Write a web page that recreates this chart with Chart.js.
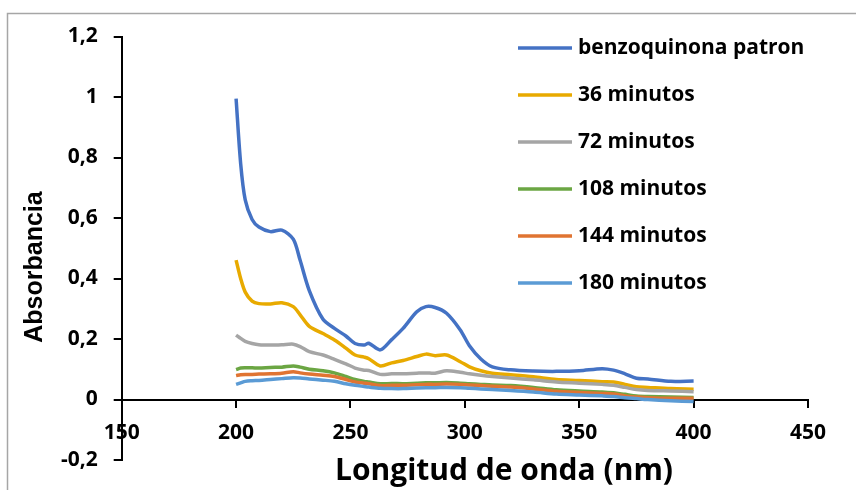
<!DOCTYPE html>
<html>
<head>
<meta charset="utf-8">
<title>Absorbancia vs longitud de onda</title>
<script src="https://cdn.jsdelivr.net/npm/chart.js@4.4.1/dist/chart.umd.min.js"></script>
<style>
  html, body { margin: 0; padding: 0; background: #fff; }
  #contenedor { width: 856px; height: 490px; position: relative; }
</style>
</head>
<body>
<div id="contenedor"><canvas id="espectro"></canvas></div>
<script>
// longitudes de onda (nm) donde se leen los espectros
const longitudes = [200, 202, 204, 207, 210, 215, 220, 225, 228, 232, 238, 243, 248, 252, 256, 258, 263, 268, 273, 279,
                    283, 287, 292, 298, 302, 307, 312, 320, 330, 340, 350, 360, 365, 370, 375, 380, 390, 400];

const benzoquinona = [0.995, 0.78, 0.66, 0.595, 0.57, 0.555, 0.56, 0.53, 0.46, 0.36, 0.265, 0.235, 0.21, 0.185, 0.18, 0.186, 0.164, 0.198, 0.235, 0.29,
                      0.307, 0.304, 0.285, 0.23, 0.178, 0.134, 0.108, 0.098, 0.094, 0.093, 0.095, 0.102, 0.097, 0.085, 0.07, 0.068, 0.06, 0.061];
const min36 = [0.461, 0.40, 0.355, 0.325, 0.317, 0.316, 0.32, 0.307, 0.28, 0.242, 0.218, 0.197, 0.17, 0.147, 0.14, 0.135, 0.111, 0.121, 0.129, 0.142,
               0.15, 0.145, 0.147, 0.125, 0.108, 0.095, 0.087, 0.082, 0.075, 0.066, 0.063, 0.059, 0.058, 0.05, 0.042, 0.04, 0.036, 0.034];
const min72 = [0.213, 0.202, 0.192, 0.185, 0.181, 0.18, 0.181, 0.183, 0.175, 0.158, 0.147, 0.133, 0.118, 0.104, 0.097, 0.096, 0.083, 0.085, 0.085, 0.087,
               0.088, 0.087, 0.095, 0.09, 0.085, 0.08, 0.076, 0.071, 0.065, 0.058, 0.054, 0.05, 0.047, 0.04, 0.033, 0.03, 0.028, 0.026];
const min108 = [0.099, 0.104, 0.105, 0.105, 0.104, 0.106, 0.107, 0.111, 0.107, 0.1, 0.095, 0.088, 0.076, 0.066, 0.06, 0.058, 0.052, 0.053, 0.052, 0.054,
                0.055, 0.055, 0.056, 0.054, 0.052, 0.05, 0.048, 0.046, 0.04, 0.032, 0.028, 0.025, 0.022, 0.017, 0.012, 0.01, 0.008, 0.007];
const min144 = [0.079, 0.082, 0.083, 0.083, 0.084, 0.085, 0.087, 0.092, 0.088, 0.084, 0.08, 0.076, 0.066, 0.058, 0.054, 0.052, 0.046, 0.047, 0.047, 0.049,
                0.05, 0.05, 0.051, 0.05, 0.048, 0.046, 0.044, 0.041, 0.035, 0.027, 0.023, 0.02, 0.018, 0.012, 0.008, 0.006, 0.004, 0.004];
const min180 = [0.05, 0.055, 0.06, 0.062, 0.063, 0.066, 0.069, 0.072, 0.071, 0.068, 0.064, 0.06, 0.052, 0.047, 0.043, 0.041, 0.037, 0.036, 0.036, 0.038,
                0.039, 0.039, 0.04, 0.039, 0.037, 0.035, 0.033, 0.03, 0.025, 0.018, 0.015, 0.012, 0.01, 0.006, 0.003, 0.0, -0.004, -0.007];

const etiquetas = ["benzoquinona patron", "36 minutos", "72 minutos", "108 minutos", "144 minutos", "180 minutos"];
const colores = ["#4472C4", "#E8AA00", "#A5A5A5", "#6BA643", "#E07432", "#5B9BD5"];
const series = [benzoquinona, min36, min72, min108, min144, min180];

const fuenteEjes = "'Open Sans', Lato, sans-serif";

// titulos de ejes, leyenda y marco del grafico
const decorado = {
  id: "decorado",
  beforeDraw(chart) {
    const ctx = chart.ctx;
    ctx.save();
    ctx.strokeStyle = "#A6A6A6";
    ctx.lineWidth = 1.5;
    ctx.strokeRect(7.5, 13.5, 1000, 1000);
    ctx.restore();
  },
  afterDraw(chart) {
    const ctx = chart.ctx;
    ctx.save();
    ctx.fillStyle = "#000";
    ctx.textBaseline = "middle";

    // leyenda
    ctx.font = "bold 21px " + fuenteEjes;
    ctx.textAlign = "left";
    chart.data.datasets.forEach(function (ds, i) {
      const y = 48 + i * 47;
      ctx.strokeStyle = ds.borderColor;
      ctx.lineWidth = 3.5;
      ctx.beginPath();
      ctx.moveTo(518, y);
      ctx.lineTo(572, y);
      ctx.stroke();
      ctx.fillText(ds.label, 578, y);
    });

    // titulo eje x
    ctx.font = "bold 30px " + fuenteEjes;
    ctx.textAlign = "center";
    ctx.fillText("Longitud de onda (nm)", 504, 471);

    // titulo eje y
    ctx.translate(35, 267);
    ctx.rotate(-Math.PI / 2);
    ctx.font = "bold 25px 'Liberation Sans', Arial, sans-serif";
    ctx.fillText("Absorbancia", 0, 0);
    ctx.restore();
  }
};

const datasets = series.map(function (valores, i) {
  return {
    label: etiquetas[i],
    data: longitudes.map(function (x, k) { return { x: x, y: valores[k] }; }),
    borderColor: colores[i],
    backgroundColor: colores[i],
    borderWidth: 3.5,
    pointRadius: 0,
    tension: 0.3,
    fill: false,
    order: series.length - 1 - i
  };
});

new Chart(document.getElementById("espectro").getContext("2d"), {
  type: "line",
  data: { datasets: datasets },
  plugins: [decorado],
  options: {
    responsive: true,
    maintainAspectRatio: false,
    animation: false,
    layout: { padding: { left: 0, top: 36.5, right: 48, bottom: 30 } },
    plugins: {
      legend: { display: false },
      tooltip: { enabled: false }
    },
    scales: {
      x: {
        type: "linear",
        position: { y: 0 },
        min: 150,
        max: 450,
        ticks: {
          stepSize: 50,
          color: "#000",
          padding: 14,
          maxRotation: 0,
          font: { family: fuenteEjes, size: 21, weight: "bold" }
        },
        grid: { drawOnChartArea: false, drawTicks: true, tickLength: 7, color: "#000", lineWidth: 2 },
        border: { display: true, color: "#000", width: 2 }
      },
      y: {
        position: "left",
        min: -0.2,
        max: 1.2,
        afterFit: function (scale) { scale.width = 121.7; },
        ticks: {
          stepSize: 0.2,
          color: "#000",
          padding: 16,
          font: { family: fuenteEjes, size: 21, weight: "bold" },
          callback: function (v) { return String(Math.round(v * 10) / 10).replace(".", ","); }
        },
        grid: { drawOnChartArea: false, drawTicks: true, tickLength: 8, color: "#000", lineWidth: 2 },
        border: { display: true, color: "#000", width: 2 }
      }
    }
  }
});
</script>
</body>
</html>
